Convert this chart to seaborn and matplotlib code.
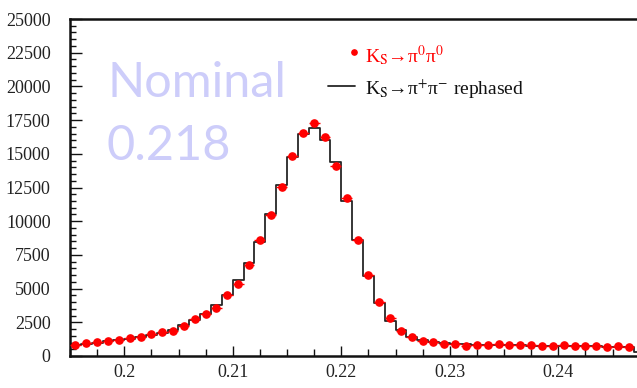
import numpy as np
import pandas as pd
import matplotlib
matplotlib.use("Agg")
import matplotlib.pyplot as plt
from matplotlib.lines import Line2D
from matplotlib.ticker import MultipleLocator, FixedLocator
import seaborn as sns

# Bin centres of the mass histogram (1 MeV bins)
bin_centers = np.round(np.arange(0.1955, 0.2470, 0.001), 4)
hist_centers = np.round(np.arange(0.1955, 0.2480, 0.001), 4)
bin_edges = [float(e) for e in np.round(np.arange(0.195, 0.2481, 0.001), 4)]

# K_S -> pi0 pi0 (points)
pi0pi0 = [820, 940, 1010, 1110, 1160, 1310, 1410, 1610, 1760, 1880,
          2230, 2720, 3100, 3590, 4530, 5330, 6740, 8580, 10490, 12550,
          14870, 16510, 17310, 16240, 14080, 11750, 8630, 6020, 3990, 2850,
          1880, 1410, 1140, 1040, 890, 870, 760, 810, 840, 890,
          790, 790, 810, 740, 760, 790, 720, 740, 720, 690,
          720, 640]

# K_S -> pi+ pi- rephased (histogram)
rephased = [790, 900, 990, 1080, 1160, 1270, 1390, 1560, 1740, 1960,
            2300, 2640, 3100, 3800, 4550, 5620, 6900, 8450, 10500, 12680,
            14780, 16470, 16900, 16020, 14370, 11500, 8600, 5960, 3950, 2620,
            1930, 1430, 1190, 1060, 960, 900, 860, 840, 820, 810,
            790, 780, 770, 760, 750, 740, 730, 720, 710, 700,
            690, 680, 320]

x_ticks = [0.20, 0.21, 0.22, 0.23, 0.24]
x_tick_labels = ["0.2", "0.21", "0.22", "0.23", "0.24"]
y_ticks = list(range(0, 25001, 2500))

hist_df = pd.DataFrame({"mass": hist_centers, "entries": rephased})

sns.set_style("white")
plt.rcParams["font.family"] = ["Liberation Serif", "DejaVu Serif"]
plt.rcParams["mathtext.fontset"] = "stix"

W, H = 637, 388
fig = plt.figure(figsize=(W / 100, H / 100), dpi=100)
ax = fig.add_axes([70 / W, 1 - 356 / H, 567 / W, 337 / H])

sns.histplot(data=hist_df, x="mass", weights="entries", bins=bin_edges,
             element="step", fill=False, color="#262626", linewidth=1.3, ax=ax)
ax.errorbar(bin_centers, pi0pi0, xerr=0.0005, fmt="o", color="#ff0000",
            markersize=5.2, elinewidth=1.0, capsize=0, zorder=5)

ax.set_xlim(0.195, 0.19500 + 567 / 10850)
ax.set_ylim(0, 25000)
ax.set_xlabel("")
ax.set_ylabel("")

ax.xaxis.set_major_locator(FixedLocator(x_ticks))
ax.set_xticklabels(x_tick_labels)
ax.xaxis.set_minor_locator(MultipleLocator(0.0025))
ax.yaxis.set_major_locator(FixedLocator(y_ticks))
ax.yaxis.set_minor_locator(MultipleLocator(500))

ax.tick_params(axis="both", which="both", direction="in", colors="#111111",
               labelsize=13, labelcolor="#222222",
               bottom=True, left=True, top=False, right=False)
ax.tick_params(axis="y", which="major", length=8.5, width=1.0, pad=14)
ax.tick_params(axis="y", which="minor", length=4, width=1.0)
ax.tick_params(axis="x", which="major", length=7, width=1.0, pad=6)
ax.tick_params(axis="x", which="minor", length=5, width=1.0)

for side in ["left", "bottom", "top"]:
    ax.spines[side].set_linewidth(1.8)
    ax.spines[side].set_color("#111111")
ax.spines["right"].set_visible(False)

# Watermark text
wm = dict(color="#cdcdfa", fontsize=35, family=["Lato", "DejaVu Sans"],
          transform=ax.transAxes, va="baseline", ha="left", zorder=0)
ax.text(37 / 567, (356 - 97) / 337, "Nominal", **wm)
ax.text(37 / 567, (356 - 160) / 337, "0.218", **wm)

# Legend
fig.add_artist(Line2D([354 / W], [1 - 52 / H], marker="o", color="#ff0000",
                      markersize=3.8, linestyle="none"))
fig.add_artist(Line2D([328 / W, 355 / W], [1 - 86 / H] * 2, color="#262626",
                      linewidth=1.3))
fig.text(365 / W, 1 - 62 / H, r"K$_{\mathrm{S}}$→π$^{\mathrm{0}}$π$^{\mathrm{0}}$",
         color="#ff0000", fontsize=14, va="baseline")
fig.text(365 / W, 1 - 95 / H, r"K$_{\mathrm{S}}$→π$^{\mathrm{+}}$π$^{\mathrm{-}}$ rephased",
         color="#111111", fontsize=14, va="baseline")

fig.savefig("out.png", dpi=100)
